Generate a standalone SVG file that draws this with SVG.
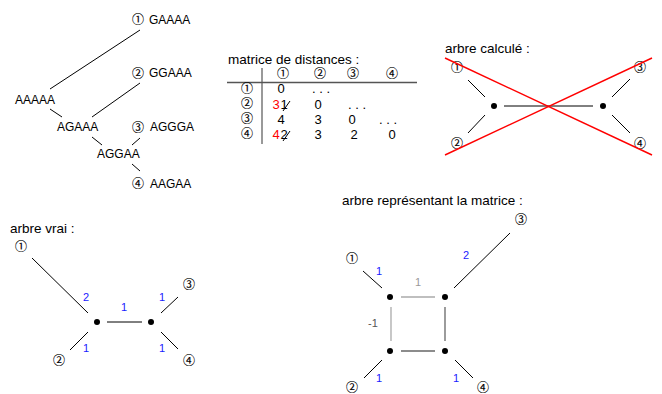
<svg xmlns="http://www.w3.org/2000/svg" width="662" height="394" viewBox="0 0 662 394">
<style>
text{font-family:"Liberation Sans","DejaVu Sans",sans-serif;fill:#000}
.c{font-family:"Noto Sans CJK JP","DejaVu Sans",sans-serif;font-size:12px;text-anchor:middle;fill:#000;stroke:#000;stroke-width:0.15}
.s{font-size:12px}
.t{font-size:13.5px}
.m{font-size:13px;text-anchor:middle}
.r{fill:#ff0000}
.b{font-size:11px;fill:#1a1aff;text-anchor:middle}
.g1{font-size:11px;fill:#999;text-anchor:middle}
.g2{font-size:11px;fill:#555;text-anchor:middle}
.e{stroke:#000;stroke-width:1;fill:none}
.red{stroke:#ff0000;stroke-width:1.5;fill:none}
.lg{stroke:#aaa;stroke-width:1.3}
.dg{stroke:#666;stroke-width:1.3}
.d{fill:#000}
</style>

<!-- Panel 1: sequence tree -->
<g id="seq-tree">
  <g id="n-gaaaa"><text class="c" x="138" y="23.5">①</text><text class="s" x="149" y="24">GAAAA</text></g>
  <g id="n-ggaaa"><text class="c" x="138" y="77.5">②</text><text class="s" x="149" y="77">GGAAA</text></g>
  <g id="n-aggga"><text class="c" x="138" y="131.5">③</text><text class="s" x="150" y="131">AGGGA</text></g>
  <g id="n-aagaa"><text class="c" x="138" y="188">④</text><text class="s" x="150" y="188">AAGAA</text></g>
  <g id="n-aaaaa"><text class="s" x="15" y="104">AAAAA</text></g>
  <g id="n-agaaa"><text class="s" x="57" y="131">AGAAA</text></g>
  <g id="n-aggaa"><text class="s" x="97" y="158">AGGAA</text></g>
  <g id="seq-edges" class="e">
    <line x1="50" y1="89" x2="140" y2="30"/>
    <line x1="50" y1="109" x2="62" y2="117"/>
    <line x1="92" y1="117" x2="140" y2="83"/>
    <line x1="92" y1="137" x2="102" y2="145"/>
    <line x1="132" y1="145" x2="140" y2="138"/>
    <line x1="132" y1="164" x2="140" y2="171"/>
  </g>
</g>

<!-- Panel 2: distance matrix -->
<g id="matrix">
  <text class="t" x="228" y="64">matrice de distances :</text>
  <line x1="227" y1="82.5" x2="417" y2="82.5" stroke="#555" stroke-width="1.5"/>
  <line x1="262" y1="68" x2="262" y2="144" stroke="#555" stroke-width="1.2"/>
  <text class="c" x="283" y="77.5">①</text>
  <text class="c" x="320" y="77.5">②</text>
  <text class="c" x="353" y="77.5">③</text>
  <text class="c" x="392" y="77.5">④</text>
  <text class="c" x="247" y="93">①</text>
  <text class="c" x="247" y="108">②</text>
  <text class="c" x="247" y="123">③</text>
  <text class="c" x="247" y="138">④</text>
  <!-- row 1 -->
  <text class="m" x="281" y="93">0</text>
  <text class="m" x="321" y="93">. . .</text>
  <!-- row 2 -->
  <text class="m r" x="276" y="109">3</text>
  <text class="m" x="284" y="109">1</text>
  <line x1="283" y1="111" x2="290" y2="101" stroke="#000" stroke-width="1"/>
  <text class="m" x="318" y="109">0</text>
  <text class="m" x="357" y="109">. . .</text>
  <!-- row 3 -->
  <text class="m" x="281" y="124">4</text>
  <text class="m" x="318" y="124">3</text>
  <text class="m" x="352" y="124">0</text>
  <text class="m" x="388" y="124">. . .</text>
  <!-- row 4 -->
  <text class="m r" x="276" y="139">4</text>
  <text class="m" x="284" y="139">2</text>
  <line x1="283" y1="141" x2="290" y2="131" stroke="#000" stroke-width="1"/>
  <text class="m" x="318" y="139">3</text>
  <text class="m" x="354" y="139">2</text>
  <text class="m" x="392" y="139">0</text>
</g>

<!-- Panel 3: computed tree (crossed out) -->
<g id="computed-tree">
  <text class="t" x="445" y="53">arbre calculé :</text>
  <g id="c1"><text class="c" x="457" y="72">①</text></g>
  <g id="c2"><text class="c" x="457" y="148">②</text></g>
  <g id="c3"><text class="c" x="640" y="72">③</text></g>
  <g id="c4"><text class="c" x="640" y="148">④</text></g>
  <g id="cu"><circle class="d" cx="494" cy="106" r="3"/></g>
  <g id="cv"><circle class="d" cx="603" cy="106" r="3"/></g>
  <g id="computed-edges" class="e">
    <line x1="468" y1="80" x2="485" y2="97"/>
    <line x1="468" y1="133" x2="485" y2="115"/>
    <line x1="504" y1="106" x2="593" y2="106"/>
    <line x1="612" y1="97" x2="630" y2="79"/>
    <line x1="612" y1="115" x2="630" y2="133"/>
  </g>
  <g id="cross">
    <line class="red" x1="445" y1="58" x2="652" y2="155"/>
    <line class="red" x1="445" y1="155" x2="652" y2="58"/>
  </g>
</g>

<!-- Panel 4: true tree -->
<g id="true-tree">
  <text class="t" x="10" y="233">arbre vrai :</text>
  <g id="v1"><text class="c" x="21" y="251">①</text></g>
  <g id="v2"><text class="c" x="59" y="365">②</text></g>
  <g id="v3"><text class="c" x="189" y="289">③</text></g>
  <g id="v4"><text class="c" x="189" y="365">④</text></g>
  <g id="vu"><circle class="d" cx="97" cy="322" r="3"/></g>
  <g id="vv"><circle class="d" cx="151" cy="322" r="3"/></g>
  <g id="true-edges" class="e">
    <line x1="32" y1="258" x2="88" y2="313"/>
    <line x1="70" y1="350" x2="88" y2="332"/>
    <line x1="107" y1="322" x2="142" y2="322"/>
    <line x1="161" y1="313" x2="178" y2="297"/>
    <line x1="161" y1="332" x2="178" y2="349"/>
  </g>
  <text class="b" x="86" y="301">2</text>
  <text class="b" x="124" y="311">1</text>
  <text class="b" x="162" y="301">1</text>
  <text class="b" x="86" y="352">1</text>
  <text class="b" x="162" y="352">1</text>
</g>

<!-- Panel 5: tree representing the matrix -->
<g id="matrix-tree">
  <text class="t" x="342" y="205">arbre représentant la matrice :</text>
  <g id="m1"><text class="c" x="352" y="263">①</text></g>
  <g id="m2"><text class="c" x="352" y="392">②</text></g>
  <g id="m3"><text class="c" x="521" y="224">③</text></g>
  <g id="m4"><text class="c" x="483" y="392">④</text></g>
  <g id="ma"><circle class="d" cx="390" cy="297" r="3"/></g>
  <g id="mb"><circle class="d" cx="445" cy="297" r="3"/></g>
  <g id="mc"><circle class="d" cx="390" cy="351" r="3"/></g>
  <g id="md"><circle class="d" cx="445" cy="351" r="3"/></g>
  <g id="matrix-edges">
    <g class="e">
      <line x1="363" y1="271" x2="382" y2="288"/>
      <line x1="454" y1="288" x2="510" y2="233"/>
      <line x1="364" y1="378" x2="382" y2="360"/>
      <line x1="455" y1="360" x2="473" y2="378"/>
    </g>
    <line class="lg" x1="401" y1="297" x2="435" y2="297"/>
    <line class="lg" x1="391" y1="307" x2="391" y2="341"/>
    <line class="dg" x1="445" y1="307" x2="445" y2="341"/>
    <line class="dg" x1="401" y1="351" x2="435" y2="351"/>
  </g>
  <text class="b" x="379" y="275">1</text>
  <text class="b" x="466" y="259">2</text>
  <text class="b" x="379" y="382">1</text>
  <text class="b" x="456" y="382">1</text>
  <text class="g1" x="418" y="286">1</text>
  <text class="g2" x="373" y="327">-1</text>
</g>
</svg>
